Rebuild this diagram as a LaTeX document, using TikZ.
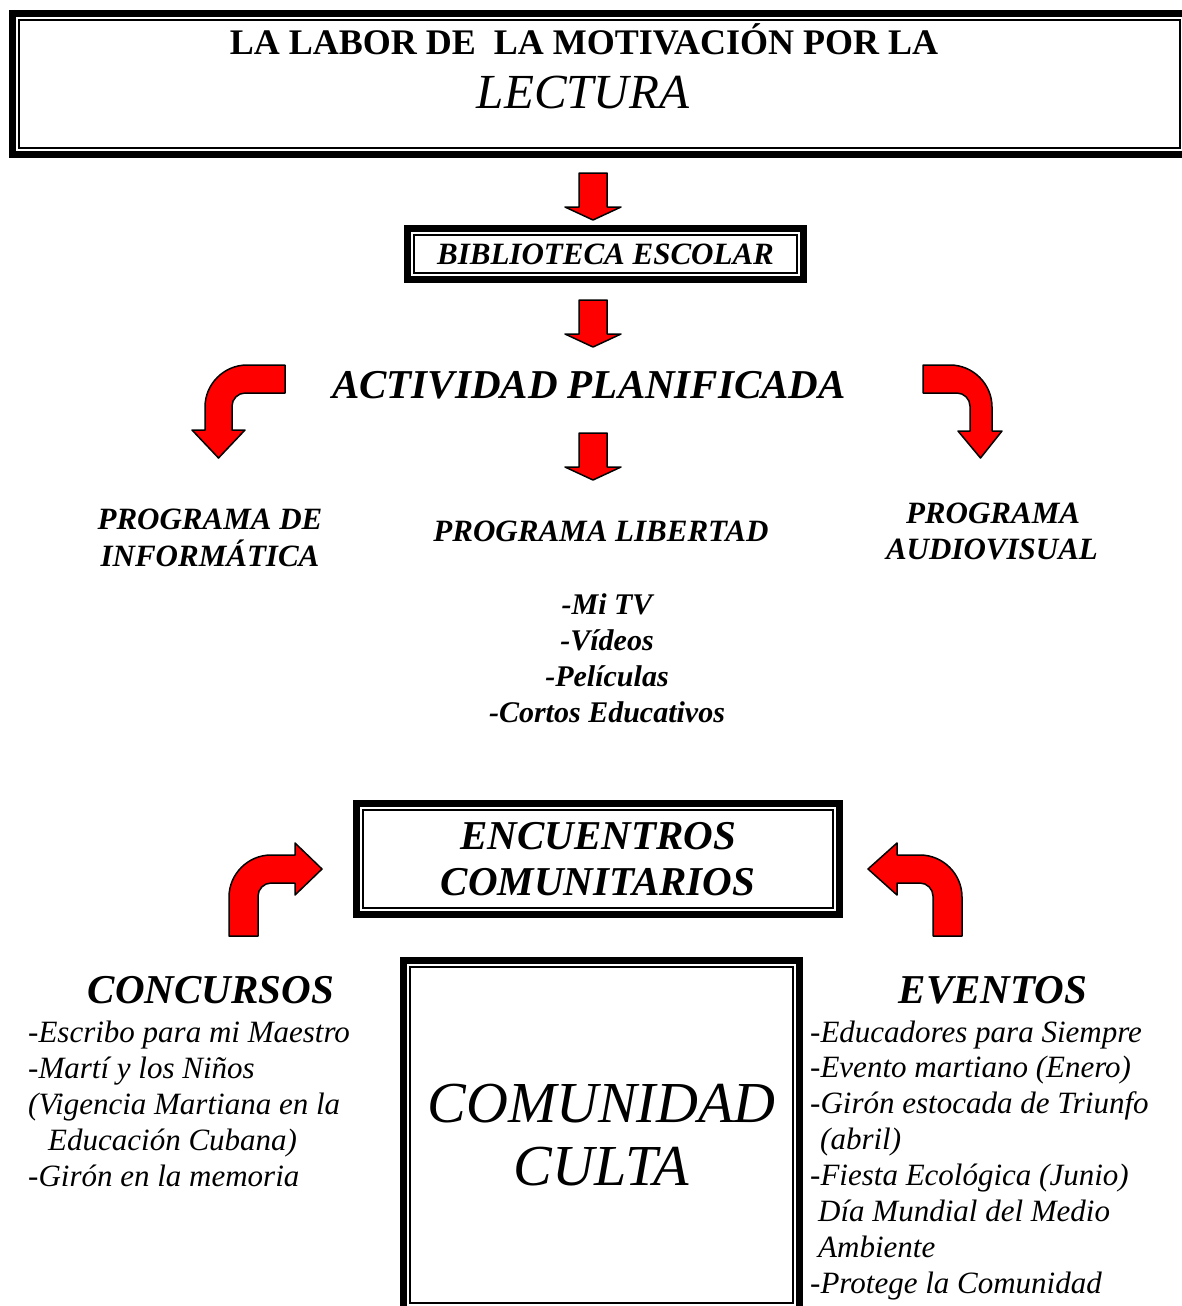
\documentclass[tikz,border=0pt]{standalone}
\usepackage{fontspec}
\setmainfont{Liberation Serif}
\newcommand{\fsz}[2]{\fontsize{#1}{#2}\selectfont}
\tikzset{
  frame/.style={draw, line width=7pt, line join=miter, inner sep=0pt, outer sep=0pt, align=center},
  thinframe/.style={draw, line width=2pt, line join=miter},
  redarrow/.style={fill=red, draw=black, line width=1.5pt},
  bi/.style={font=\fsz{31}{36}\bfseries\itshape, inner sep=0pt},
  item/.style={font=\fsz{31}{36}\itshape, inner sep=0pt, anchor=base west},
  downarrow/.pic={\filldraw[redarrow] (-14,0) -- (-14,34) -- (-28,34) -- (0,47) -- (28,34) -- (14,34) -- (14,0) -- cycle;}
}
\begin{document}
\begin{tikzpicture}[x=1pt,y=-1pt,line join=round]
	\useasboundingbox (0,0) rectangle (1181,1306);
	%
	\node[frame, minimum width=1174pt, minimum height=141pt] (title) at (599.5,84) {};
	\draw[thinframe] ([shift={(6.5,6.5)}]title.north west) rectangle ([shift={(-6.5,-6.5)}]title.south east);
	\node[font=\fsz{36}{42}\bfseries, anchor=base, inner sep=0pt] (labor) at (584,55) {LA LABOR DE \ LA MOTIVACIÓN POR LA};
	\node[font=\fsz{49}{56}\itshape, anchor=base, inner sep=0pt] (lectura) at (583,108) {LECTURA};
	%
	\pic at (593,173) {downarrow};
	\node[frame, bi, minimum width=396pt, minimum height=51pt] (biblio) at (605.5,254) {BIBLIOTECA ESCOLAR};
	\draw[thinframe] ([shift={(6.5,6.5)}]biblio.north west) rectangle ([shift={(-6.5,-6.5)}]biblio.south east);
	\pic at (593,300) {downarrow};
	%
	\node[bi, font=\fsz{41}{47}\bfseries\itshape, anchor=base] (actividad) at (589,398) {ACTIVIDAD PLANIFICADA};
	\filldraw[redarrow] (285,365) -- (247,365) .. controls (224,365) and (205,384) .. (205,407) -- (205,430) -- (192,430) -- (218.5,458) -- (245,430) -- (232,430) -- (232,406) .. controls (232,399) and (238,393) .. (245,393) -- (285,393) -- cycle;
	\filldraw[redarrow] (923,365) -- (950,365) .. controls (973,365) and (992,384) .. (992,407) -- (992,431) -- (1002,431) -- (980.5,458) -- (958,431) -- (970,431) -- (970,406) .. controls (970,399) and (964,393) .. (957,393) -- (923,393) -- cycle;
	\pic at (593,433) {downarrow};
	%
	\node[bi, anchor=base] (info1) at (210,529) {PROGRAMA DE};
	\node[bi, anchor=base] (info2) at (210,566) {INFORMÁTICA};
	\node[bi, anchor=base] (libertad) at (601,541) {PROGRAMA LIBERTAD};
	\node[bi, anchor=base] (audio1) at (993,523) {PROGRAMA};
	\node[bi, anchor=base] (audio2) at (992,559) {AUDIOVISUAL};
	\foreach \txt [count=\i from 0] in {-Mi TV, -Vídeos, -Películas, -Cortos Educativos}
		\node[bi, font=\fsz{30}{36}\bfseries\itshape, anchor=base] (lib\i) at (607,614+36*\i) {\txt};
	%
	\node[frame, bi, font=\fsz{41}{46}\bfseries\itshape, minimum width=483pt, minimum height=111pt] (encuentros) at (598,859) {ENCUENTROS\\COMUNITARIOS};
	\draw[thinframe] ([shift={(6.5,6.5)}]encuentros.north west) rectangle ([shift={(-6.5,-6.5)}]encuentros.south east);
	\filldraw[redarrow] (229,936) -- (229,897) .. controls (229,874) and (248,855) .. (271,855) -- (295,855) -- (295,843) -- (322,869) -- (295,895) -- (295,883) -- (271,883) .. controls (264,883) and (258,889) .. (258,896) -- (258,936) -- cycle;
	\filldraw[redarrow] (962,936) -- (962,897) .. controls (962,874) and (943,855) .. (920,855) -- (897,855) -- (897,843) -- (868,869) -- (897,895) -- (897,883) -- (920,883) .. controls (927,883) and (933,889) .. (933,896) -- (933,936) -- cycle;
	%
	\node[frame, font=\fsz{58}{63}\itshape, minimum width=396pt, minimum height=349pt] (comunidad) at (601.5,1135) {COMUNIDAD\\CULTA};
	\draw[thinframe] ([shift={(6.5,6.5)}]comunidad.north west) rectangle ([shift={(-6.5,-6.5)}]comunidad.south east);
	%
	\node[bi, font=\fsz{41}{47}\bfseries\itshape, anchor=base] (concursos) at (211,1003) {CONCURSOS};
	\foreach \txt [count=\i from 0] in {-Escribo para mi Maestro, -Martí y los Niños, {(Vigencia Martiana en la}, {\hspace*{20pt}Educación Cubana)}, -Girón en la memoria}
		\node[item] (conc\i) at (28,1042+36.2*\i) {\txt};
	\node[bi, font=\fsz{41}{47}\bfseries\itshape, anchor=base] (eventos) at (993,1003) {EVENTOS};
	\foreach \txt [count=\i from 0] in {-Educadores para Siempre, -Evento martiano (Enero), -Girón estocada de Triunfo, {\hspace*{10pt}(abril)}, -Fiesta Ecológica (Junio), {\hspace*{8pt}Día Mundial del Medio}, {\hspace*{8pt}Ambiente}, -Protege la Comunidad}
		\node[item] (ev\i) at (810,1042+35.9*\i) {\txt};
\end{tikzpicture}
\end{document}
